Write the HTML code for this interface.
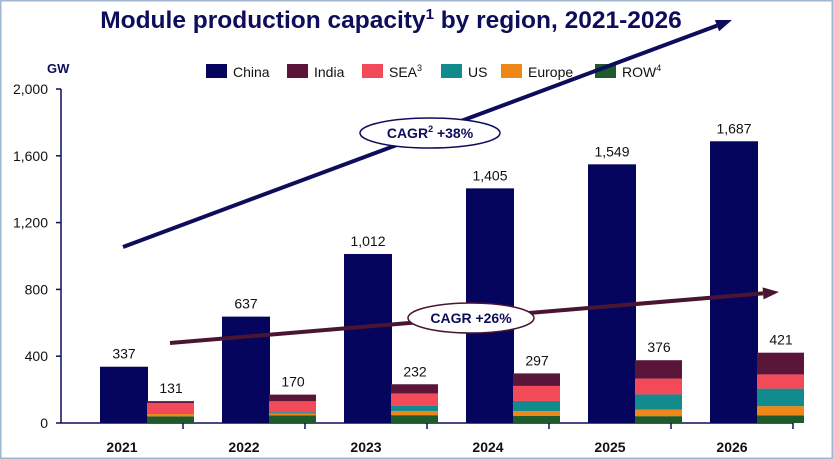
<!DOCTYPE html>
<html><head><meta charset="utf-8"><style>
body{margin:0;background:#fff;}
svg{display:block;font-family:"Liberation Sans",Arial,sans-serif;}
</style></head><body>
<svg id="c" width="833" height="459" viewBox="0 0 833 459">
<rect x="0.5" y="0.5" width="832" height="458" fill="#fff" stroke="#9fb8cf" stroke-width="2"/>
<text x="391" y="28" text-anchor="middle" font-size="24.5" font-weight="bold" fill="#0d0d5c">Module production capacity<tspan font-size="15" dy="-9">1</tspan><tspan dy="9"> by region, 2021-2026</tspan></text>
<text x="47" y="73" font-size="13" font-weight="bold" fill="#0d0d5c">GW</text>
<g id="legend"></g>
<g id="axes"></g>
<g id="bars"></g>
<g id="arrows"></g>
</svg>
<script>
const years=["2021","2022","2023","2024","2025","2026"];
const china=[337,637,1012,1405,1549,1687];
const row=[40,45,47,42,41,46];
const europe=[15,12,25,30,40,55];
const us=[5,8,30,60,90,105];
const sea=[60,65,75,90,95,85];
const india=[11,40,55,75,110,130];
const totals=[131,170,232,297,376,421];
const yTicks=[0,400,800,1200,1600,2000];
const yTickLabels=["0","400","800","1,200","1,600","2,000"];
const seriesNames=["China","India","SEA","US","Europe","ROW"];
const colors={China:"#05055e",India:"#5b1538",SEA:"#f34a5a",US:"#128b8f",Europe:"#ee8618",ROW:"#1f5a2c"};
const NS="http://www.w3.org/2000/svg";
function mk(t,a,p,txt){const e=document.createElementNS(NS,t);for(const k in a)e.setAttribute(k,a[k]);if(txt!==undefined)e.textContent=txt;p.appendChild(e);return e;}
const y0=423,yTop=89,x0=61,gw=122;
function y(v){return y0-(v/2000)*(y0-yTop);}
function gx(i){return x0+gw*i+gw/2;}
const axes=document.getElementById('axes');
let l=mk('line',{x1:x0,y1:y(0),x2:x0,y2:y(2000),stroke:'#0d0d5c','stroke-width':1.5},axes);


l=mk('line',{x1:x0,y1:y0,x2:x0+gw*6,y2:y0,stroke:'#0d0d5c','stroke-width':1.5},axes);


yTicks.forEach((v,i)=>{
 const t=mk('line',{x1:x0-5,y1:y(v),x2:x0,y2:y(v),stroke:'#0d0d5c','stroke-width':1.5},axes);
 
 
 const tx=mk('text',{x:x0-13,y:y(v)+5,'text-anchor':'end','font-size':14,fill:'#111'},axes,yTickLabels[i]);
 
 
});
for(let i=1;i<=6;i++){
 const t=mk('line',{x1:x0+gw*i,y1:y0,x2:x0+gw*i,y2:y0+6,stroke:'#0d0d5c','stroke-width':1.5},axes);
 
 
}
const bars=document.getElementById('bars');
years.forEach((yr,i)=>{
 const c=gx(i);
 const lab=mk('text',{x:c,y:452,'text-anchor':'middle','font-size':14,'font-weight':'bold',fill:'#111'},bars,yr);
 
 
 const b=mk('rect',{x:c-22,y:y(china[i]),width:48,height:y0-y(china[i]),fill:colors.China},bars);
 
 
 const v=mk('text',{x:c+2,y:y(china[i])-8,'text-anchor':'middle','font-size':14,fill:'#111'},bars,china[i].toLocaleString('en-US'));
 
 
 let acc=0;
 [["ROW",row],["Europe",europe],["US",us],["SEA",sea],["India",india]].forEach(([n,arr])=>{
  const s=mk('rect',{x:c+25,y:y(acc+arr[i]),width:47,height:y(acc)-y(acc+arr[i]),fill:colors[n]},bars);
  
  
  acc+=arr[i];
 });
 const tv=mk('text',{x:c+49,y:y(totals[i])-8,'text-anchor':'middle','font-size':14,fill:'#111'},bars,totals[i]);
 
 
});
const lg=document.getElementById('legend');
const lx=[206,287,362,441,501,595],sup={SEA:"3",ROW:"4"};
seriesNames.forEach((n,i)=>{
 const r=mk('rect',{x:lx[i],y:64,width:21,height:14,fill:colors[n]},lg);
 
 
 const t=mk('text',{x:lx[i]+27,y:77,'font-size':14,fill:'#111'},lg,n);
 
 
 if(sup[n]){const s=mk('tspan',{'font-size':9,dy:-6},t,sup[n]);}
});
const ar=document.getElementById('arrows');
function arrow(x1,y1,x2,y2,col,name){
 const g=mk('g',{},ar);
 
 
 const a=Math.atan2(y2-y1,x2-x1),L=16,W=6;
 const bx=x2-L*Math.cos(a),by=y2-L*Math.sin(a);
 mk('line',{x1,y1,x2:bx,y2:by,stroke:col,'stroke-width':4},g);
 mk('polygon',{points:`${x2},${y2} ${bx+W*Math.sin(a)},${by-W*Math.cos(a)} ${bx-W*Math.sin(a)},${by+W*Math.cos(a)}`,fill:col},g);
}
arrow(123,247,732,20,'#0d0d5c','cagr-arrow-china');
arrow(170,343,779,292,'#4a1530','cagr-arrow-other');
function oval(cx,cy,rx,col,html,name){
 const g=mk('g',{},ar);
 
 
 mk('ellipse',{cx,cy,rx,ry:15,fill:'#fff',stroke:col,'stroke-width':1.5},g);
 const t=mk('text',{x:cx,y:cy+5,'text-anchor':'middle','font-size':14,'font-weight':'bold',fill:'#0d0d5c'},g);
 t.innerHTML=html;
}
oval(430,133,70,'#0d0d5c','CAGR<tspan font-size="9" dy="-6">2</tspan><tspan dy="6"> +38%</tspan>','cagr-label-china');
oval(471,318,63,'#4a1530','CAGR +26%','cagr-label-other');
</script>
</body></html>
